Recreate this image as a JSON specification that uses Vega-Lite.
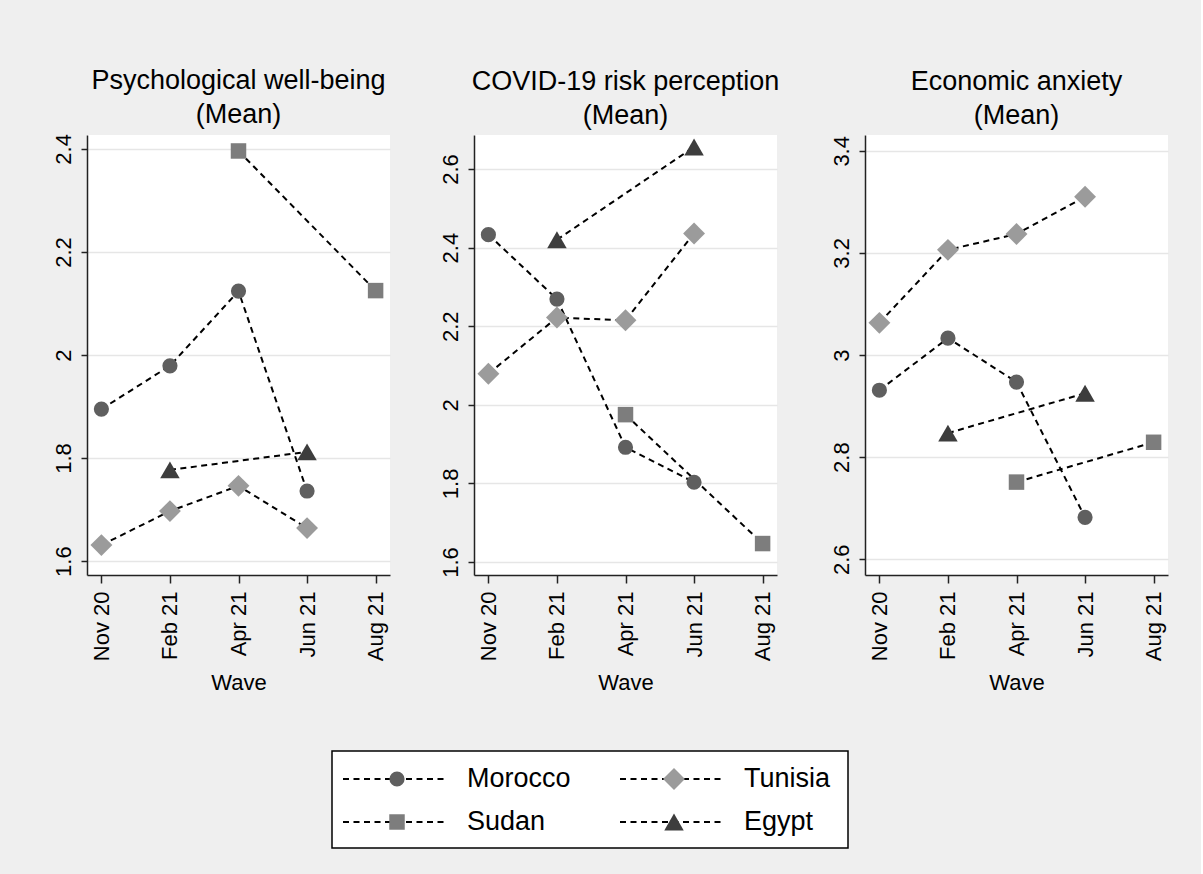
{
  "$schema": "https://vega.github.io/schema/vega-lite/v6.json",
  "background": "#efefef",
  "padding": {"left": 51, "top": 66, "right": 33, "bottom": 26},
  "config": {
    "font": "Liberation Sans",
    "view": {"fill": "white", "stroke": null},
    "axis": {
      "labelFont": "Liberation Sans", "labelFontSize": 22, "labelColor": "black",
      "titleFont": "Liberation Sans", "titleFontSize": 22, "titleFontWeight": "normal", "titleColor": "black",
      "domainColor": "#222222", "domainWidth": 1.5, "tickColor": "#222222", "tickWidth": 1.5,
      "gridColor": "#e6e6e6", "gridWidth": 1.5, "labelOverlap": false, "labelFlush": false
    },
    "title": {"font": "Liberation Sans", "fontSize": 27, "fontWeight": "normal", "lineHeight": 34, "anchor": "middle", "baseline": "bottom", "offset": 5, "color": "black"}
  },
  "datasets": {
    "means": [
      {"measure": "pwb", "country": "Morocco", "wave": "Nov 20", "value": 1.895},
      {"measure": "pwb", "country": "Morocco", "wave": "Feb 21", "value": 1.979},
      {"measure": "pwb", "country": "Morocco", "wave": "Apr 21", "value": 2.124},
      {"measure": "pwb", "country": "Morocco", "wave": "Jun 21", "value": 1.736},
      {"measure": "pwb", "country": "Tunisia", "wave": "Nov 20", "value": 1.631},
      {"measure": "pwb", "country": "Tunisia", "wave": "Feb 21", "value": 1.697},
      {"measure": "pwb", "country": "Tunisia", "wave": "Apr 21", "value": 1.746},
      {"measure": "pwb", "country": "Tunisia", "wave": "Jun 21", "value": 1.664},
      {"measure": "pwb", "country": "Egypt", "wave": "Feb 21", "value": 1.777},
      {"measure": "pwb", "country": "Egypt", "wave": "Jun 21", "value": 1.812},
      {"measure": "pwb", "country": "Sudan", "wave": "Apr 21", "value": 2.396},
      {"measure": "pwb", "country": "Sudan", "wave": "Aug 21", "value": 2.125},
      {"measure": "risk", "country": "Morocco", "wave": "Nov 20", "value": 2.433},
      {"measure": "risk", "country": "Morocco", "wave": "Feb 21", "value": 2.269},
      {"measure": "risk", "country": "Morocco", "wave": "Apr 21", "value": 1.892},
      {"measure": "risk", "country": "Morocco", "wave": "Jun 21", "value": 1.803},
      {"measure": "risk", "country": "Tunisia", "wave": "Nov 20", "value": 2.079},
      {"measure": "risk", "country": "Tunisia", "wave": "Feb 21", "value": 2.222},
      {"measure": "risk", "country": "Tunisia", "wave": "Apr 21", "value": 2.215},
      {"measure": "risk", "country": "Tunisia", "wave": "Jun 21", "value": 2.436},
      {"measure": "risk", "country": "Egypt", "wave": "Feb 21", "value": 2.42},
      {"measure": "risk", "country": "Egypt", "wave": "Jun 21", "value": 2.656},
      {"measure": "risk", "country": "Sudan", "wave": "Apr 21", "value": 1.975},
      {"measure": "risk", "country": "Sudan", "wave": "Aug 21", "value": 1.647},
      {"measure": "econ", "country": "Morocco", "wave": "Nov 20", "value": 2.931},
      {"measure": "econ", "country": "Morocco", "wave": "Feb 21", "value": 3.033},
      {"measure": "econ", "country": "Morocco", "wave": "Apr 21", "value": 2.947},
      {"measure": "econ", "country": "Morocco", "wave": "Jun 21", "value": 2.682},
      {"measure": "econ", "country": "Tunisia", "wave": "Nov 20", "value": 3.063},
      {"measure": "econ", "country": "Tunisia", "wave": "Feb 21", "value": 3.206},
      {"measure": "econ", "country": "Tunisia", "wave": "Apr 21", "value": 3.237},
      {"measure": "econ", "country": "Tunisia", "wave": "Jun 21", "value": 3.31},
      {"measure": "econ", "country": "Egypt", "wave": "Feb 21", "value": 2.847},
      {"measure": "econ", "country": "Egypt", "wave": "Jun 21", "value": 2.925},
      {"measure": "econ", "country": "Sudan", "wave": "Apr 21", "value": 2.751},
      {"measure": "econ", "country": "Sudan", "wave": "Aug 21", "value": 2.829}
    ],
    "legend": [
      {"country": "Morocco", "col": 0, "row": 0},
      {"country": "Tunisia", "col": 1, "row": 0},
      {"country": "Sudan", "col": 0, "row": 1},
      {"country": "Egypt", "col": 1, "row": 1}
    ]
  },
  "resolve": {"scale": {"x": "independent", "y": "independent"}},
  "spacing": 56,
  "vconcat": [
    {
      "spacing": 49,
      "resolve": {"scale": {"x": "independent", "y": "independent"}},
      "hconcat": [
        {
          "width": 303, "height": 440,
          "data": {"name": "means"},
          "title": {"text": ["Psychological well-being", "(Mean)"]},
          "transform": [{"filter": "datum.measure === 'pwb'"}],
          "encoding": {
            "x": {"field": "wave", "type": "nominal",
              "scale": {"type": "point", "domain": ["Nov 20", "Feb 21", "Apr 21", "Jun 21", "Aug 21"], "padding": 0.21},
              "axis": {"title": "Wave", "grid": false, "labelAngle": -90, "labelAlign": "right", "labelBaseline": "middle", "tickSize": 8, "labelPadding": 8, "titlePadding": 12}},
            "y": {"field": "value", "type": "quantitative",
              "scale": {"domain": [1.573, 2.427], "nice": false, "zero": false},
              "axis": {"title": null, "values": [1.6, 1.8, 2, 2.2, 2.4], "format": "~g", "labelAngle": -90, "labelAlign": "center", "labelBaseline": "alphabetic", "tickSize": 6, "labelPadding": 11, "grid": true}}
          },
          "layer": [
            {"mark": {"type": "line", "color": "black", "strokeDash": [6, 4.5], "strokeWidth": 2},
             "encoding": {"detail": {"field": "country"}, "order": {"value": null}}},
            {"mark": {"type": "point", "filled": true, "opacity": 1},
             "encoding": {
               "shape": {"field": "country", "scale": {"domain": ["Morocco", "Tunisia", "Sudan", "Egypt"], "range": ["circle", "diamond", "square", "triangle-up"]}, "legend": null},
               "color": {"field": "country", "scale": {"domain": ["Morocco", "Tunisia", "Sudan", "Egypt"], "range": ["#5f5f5f", "#9b9b9b", "#7d7d7d", "#3d3d3d"]}, "legend": null},
               "size": {"condition": [{"test": "datum.country === 'Tunisia'", "value": 480}, {"test": "datum.country === 'Egypt'", "value": 380}, {"test": "datum.country === 'Sudan'", "value": 240}], "value": 230}
             }}
          ]
        },
        {
          "width": 303, "height": 440,
          "data": {"name": "means"},
          "title": {"text": ["COVID-19 risk perception", "(Mean)"]},
          "transform": [{"filter": "datum.measure === 'risk'"}],
          "encoding": {
            "x": {"field": "wave", "type": "nominal",
              "scale": {"type": "point", "domain": ["Nov 20", "Feb 21", "Apr 21", "Jun 21", "Aug 21"], "padding": 0.21},
              "axis": {"title": "Wave", "grid": false, "labelAngle": -90, "labelAlign": "right", "labelBaseline": "middle", "tickSize": 8, "labelPadding": 8, "titlePadding": 12}},
            "y": {"field": "value", "type": "quantitative",
              "scale": {"domain": [1.567, 2.6865], "nice": false, "zero": false},
              "axis": {"title": null, "values": [1.6, 1.8, 2, 2.2, 2.4, 2.6], "format": "~g", "labelAngle": -90, "labelAlign": "center", "labelBaseline": "alphabetic", "tickSize": 6, "labelPadding": 11, "grid": true}}
          },
          "layer": [
            {"mark": {"type": "line", "color": "black", "strokeDash": [6, 4.5], "strokeWidth": 2},
             "encoding": {"detail": {"field": "country"}, "order": {"value": null}}},
            {"mark": {"type": "point", "filled": true, "opacity": 1},
             "encoding": {
               "shape": {"field": "country", "scale": {"domain": ["Morocco", "Tunisia", "Sudan", "Egypt"], "range": ["circle", "diamond", "square", "triangle-up"]}, "legend": null},
               "color": {"field": "country", "scale": {"domain": ["Morocco", "Tunisia", "Sudan", "Egypt"], "range": ["#5f5f5f", "#9b9b9b", "#7d7d7d", "#3d3d3d"]}, "legend": null},
               "size": {"condition": [{"test": "datum.country === 'Tunisia'", "value": 480}, {"test": "datum.country === 'Egypt'", "value": 380}, {"test": "datum.country === 'Sudan'", "value": 240}], "value": 230}
             }}
          ]
        },
        {
          "width": 303, "height": 440,
          "data": {"name": "means"},
          "title": {"text": ["Economic anxiety", "(Mean)"]},
          "transform": [{"filter": "datum.measure === 'econ'"}],
          "encoding": {
            "x": {"field": "wave", "type": "nominal",
              "scale": {"type": "point", "domain": ["Nov 20", "Feb 21", "Apr 21", "Jun 21", "Aug 21"], "padding": 0.21},
              "axis": {"title": "Wave", "grid": false, "labelAngle": -90, "labelAlign": "right", "labelBaseline": "middle", "tickSize": 8, "labelPadding": 8, "titlePadding": 12}},
            "y": {"field": "value", "type": "quantitative",
              "scale": {"domain": [2.569, 3.431], "nice": false, "zero": false},
              "axis": {"title": null, "values": [2.6, 2.8, 3, 3.2, 3.4], "format": "~g", "labelAngle": -90, "labelAlign": "center", "labelBaseline": "alphabetic", "tickSize": 6, "labelPadding": 11, "grid": true}}
          },
          "layer": [
            {"mark": {"type": "line", "color": "black", "strokeDash": [6, 4.5], "strokeWidth": 2},
             "encoding": {"detail": {"field": "country"}, "order": {"value": null}}},
            {"mark": {"type": "point", "filled": true, "opacity": 1},
             "encoding": {
               "shape": {"field": "country", "scale": {"domain": ["Morocco", "Tunisia", "Sudan", "Egypt"], "range": ["circle", "diamond", "square", "triangle-up"]}, "legend": null},
               "color": {"field": "country", "scale": {"domain": ["Morocco", "Tunisia", "Sudan", "Egypt"], "range": ["#5f5f5f", "#9b9b9b", "#7d7d7d", "#3d3d3d"]}, "legend": null},
               "size": {"condition": [{"test": "datum.country === 'Tunisia'", "value": 480}, {"test": "datum.country === 'Egypt'", "value": 380}, {"test": "datum.country === 'Sudan'", "value": 240}], "value": 230}
             }}
          ]
        }
      ]
    },
    {
      "spacing": 0,
      "hconcat": [
        {
          "width": 244, "height": 97,
          "view": {"fill": null, "stroke": null},
          "data": {"values": []},
          "mark": "point"
        },
        {
          "width": 516, "height": 97,
          "data": {"name": "legend"},
          "view": {"fill": "white", "stroke": "black", "strokeWidth": 1.5},
          "encoding": {
            "x": {"field": "col", "type": "quantitative", "scale": {"domain": [0, 1], "range": [0, 277]}, "axis": null},
            "y": {"field": "row", "type": "quantitative", "scale": {"domain": [0, 1], "range": [28, 71]}, "axis": null}
          },
          "layer": [
            {"mark": {"type": "rule", "color": "black", "strokeDash": [6, 4.5], "strokeWidth": 2, "xOffset": 11, "x2Offset": 116},
             "encoding": {"x2": {"field": "col"}}},
            {"mark": {"type": "point", "filled": true, "opacity": 1, "xOffset": 65},
             "encoding": {
               "shape": {"field": "country", "scale": {"domain": ["Morocco", "Tunisia", "Sudan", "Egypt"], "range": ["circle", "diamond", "square", "triangle-up"]}, "legend": null},
               "color": {"field": "country", "scale": {"domain": ["Morocco", "Tunisia", "Sudan", "Egypt"], "range": ["#5f5f5f", "#9b9b9b", "#7d7d7d", "#3d3d3d"]}, "legend": null},
               "size": {"condition": [{"test": "datum.country === 'Tunisia'", "value": 480}, {"test": "datum.country === 'Egypt'", "value": 380}, {"test": "datum.country === 'Sudan'", "value": 240}], "value": 230}
             }},
            {"mark": {"type": "text", "align": "left", "baseline": "middle", "fontSize": 27, "xOffset": 135, "color": "black", "font": "Liberation Sans"},
             "encoding": {"text": {"field": "country"}}}
          ]
        }
      ]
    }
  ]
}
